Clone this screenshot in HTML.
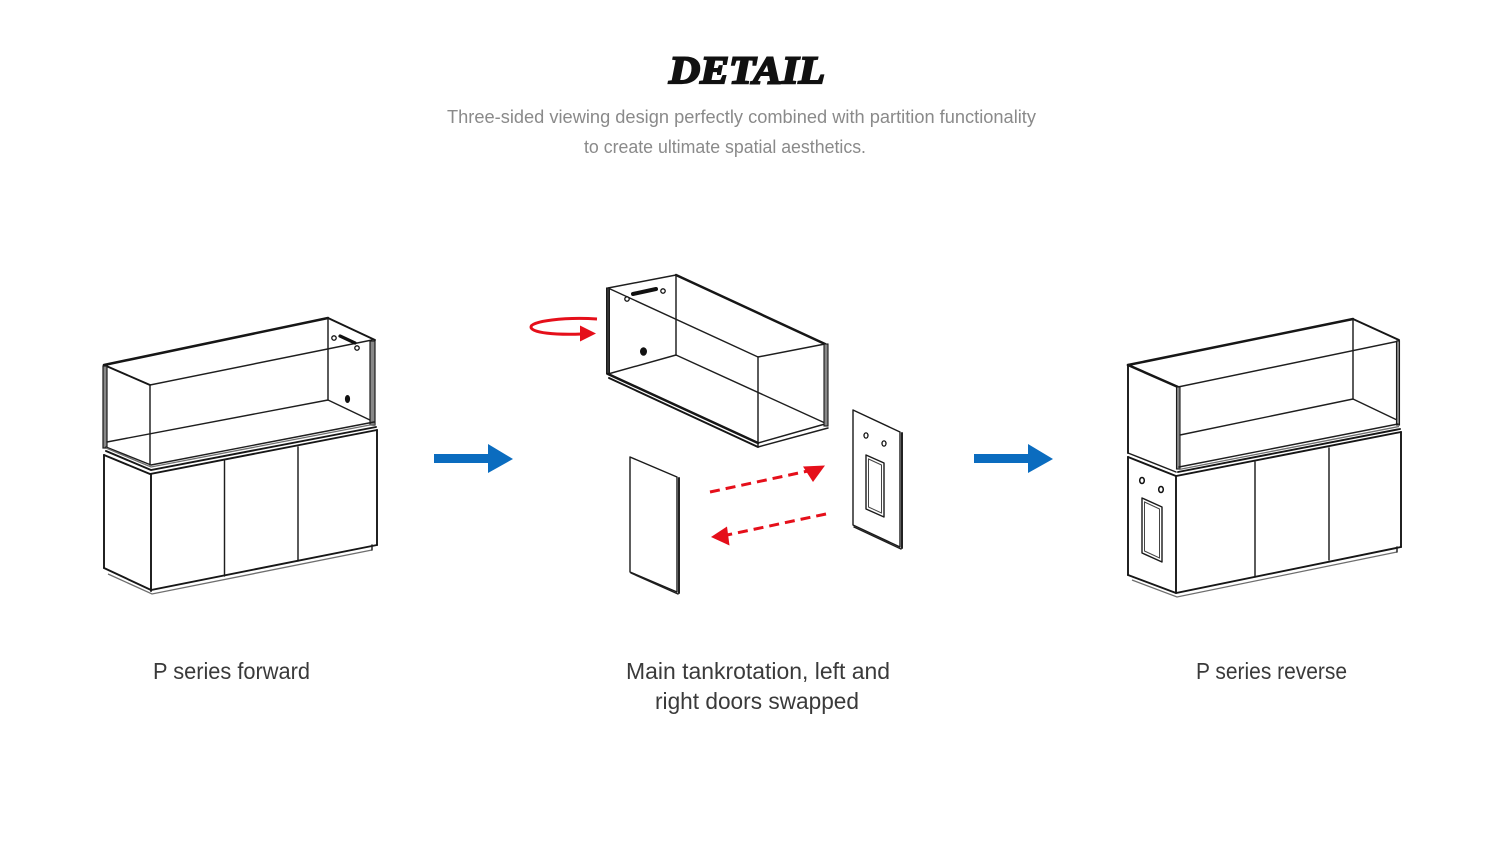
<!DOCTYPE html>
<html>
<head>
<meta charset="utf-8">
<style>
html,body{margin:0;padding:0;background:#fff;}
body{width:1500px;height:844px;overflow:hidden;}
svg{display:block;}
.ln{stroke:#1e1e1e;stroke-width:1.45;fill:none;stroke-linejoin:round;stroke-linecap:round;}
.th{stroke:#161616;stroke-width:2.5;fill:none;stroke-linecap:round;stroke-linejoin:round;}
.md{stroke:#161616;stroke-width:1.9;fill:none;stroke-linecap:round;}
.gr{stroke:#6e6e6e;stroke-width:1.3;fill:none;}
.lab{font-family:"Liberation Sans",sans-serif;font-size:23px;fill:#3a3a3a;}
.sub{font-family:"Liberation Sans",sans-serif;font-size:18.5px;fill:#8a8a8a;}
</style>
</head>
<body>
<svg width="1500" height="844" viewBox="0 0 1500 844" xmlns="http://www.w3.org/2000/svg">
<rect width="1500" height="844" fill="#fff"/>

<!-- Title -->
<text x="669" y="83" textLength="156" lengthAdjust="spacingAndGlyphs" font-family="'Liberation Serif',serif" font-size="39" font-weight="bold" font-style="italic" fill="#111" stroke="#111" stroke-width="2">DETAIL</text>
<text class="sub" x="447" y="123" textLength="589" lengthAdjust="spacingAndGlyphs">Three-sided viewing design perfectly combined with partition functionality</text>
<text class="sub" x="584" y="153" textLength="282" lengthAdjust="spacingAndGlyphs">to create ultimate spatial aesthetics.</text>

<!-- ========== LEFT: P series forward ========== -->
<g>
  <line class="th" x1="104" y1="365" x2="328" y2="318"/>
  <line class="md" x1="104" y1="365" x2="150" y2="385"/>
  <line class="ln" x1="150" y1="385" x2="372" y2="340"/>
  <line class="md" x1="328" y1="318" x2="375" y2="340"/>
  <rect x="103" y="366" width="4" height="82" fill="#888" stroke="#1a1a1a" stroke-width="1.2"/>
  <line class="ln" x1="150" y1="385" x2="150" y2="465"/>
  <line class="ln" x1="328" y1="318" x2="328" y2="400"/>
  <line class="ln" x1="107" y1="442" x2="328" y2="400"/>
  <line class="ln" x1="328" y1="400" x2="372" y2="421"/>
  <rect x="370" y="341" width="5" height="84" fill="#888" stroke="#1a1a1a" stroke-width="1.2"/>
  <polyline class="ln" points="106,447 151,465 374,422"/>
  <polyline class="md" points="106,451 151,470 376,427"/>
  <polyline class="gr" points="106,448 151,467 375,424"/>
  <circle cx="334" cy="338" r="2.2" fill="#fff" stroke="#111" stroke-width="1.3"/>
  <circle cx="357" cy="348" r="2.2" fill="#fff" stroke="#111" stroke-width="1.3"/>
  <line x1="340" y1="336" x2="355" y2="343" stroke="#111" stroke-width="3.2" stroke-linecap="round"/>
  <ellipse cx="347.5" cy="399" rx="2.6" ry="4" fill="#111"/>
  <polyline class="md" points="104,455 150,474 377,430"/>
  <line class="md" x1="104" y1="455" x2="104" y2="568"/>
  <line class="md" x1="151" y1="474" x2="151" y2="591"/>
  <line class="md" x1="377" y1="430" x2="377" y2="545"/>
  <line class="ln" x1="224.5" y1="461" x2="224.5" y2="576"/>
  <line class="ln" x1="298" y1="447" x2="298" y2="561"/>
  <polyline class="md" points="104,568 151,590 377,545"/>
  <polyline class="gr" points="108,574 152,594 372,550"/>
  <line class="ln" x1="372" y1="545" x2="372" y2="550"/>
</g>

<!-- blue arrow 1 -->
<polygon points="434,454 488,454 488,444 513,459 488,473 488,463 434,463" fill="#0b6cbf"/>

<!-- ========== MIDDLE ========== -->
<g>
  <line class="ln" x1="608" y1="288" x2="676" y2="275"/>
  <line class="th" x1="676" y1="275" x2="825" y2="344"/>
  <line class="ln" x1="608" y1="288" x2="758" y2="357"/>
  <line class="ln" x1="758" y1="357" x2="825" y2="344"/>
  <line class="ln" x1="676" y1="275" x2="676" y2="355"/>
  <line class="ln" x1="608" y1="374" x2="676" y2="355"/>
  <line class="ln" x1="676" y1="355" x2="825" y2="423"/>
  <line class="ln" x1="758" y1="357" x2="758" y2="443"/>
  <line class="ln" x1="758" y1="443" x2="825" y2="424"/>
  <rect x="606.5" y="288" width="3" height="86" fill="#333" stroke="#1a1a1a" stroke-width="1"/>
  <rect x="824" y="344" width="4" height="82" fill="#888" stroke="#1a1a1a" stroke-width="1.1"/>
  <line class="th" x1="608" y1="374" x2="758" y2="443"/>
  <line class="md" x1="609" y1="378" x2="758" y2="447"/>
  <line class="ln" x1="758" y1="447" x2="828" y2="428"/>
  <line class="ln" x1="758" y1="443" x2="758" y2="447"/>
  <circle cx="627" cy="299" r="2.2" fill="#fff" stroke="#111" stroke-width="1.3"/>
  <circle cx="663" cy="291" r="2.2" fill="#fff" stroke="#111" stroke-width="1.3"/>
  <line x1="633" y1="294" x2="656" y2="289" stroke="#111" stroke-width="4" stroke-linecap="round"/>
  <ellipse cx="643.5" cy="351.5" rx="3.5" ry="4.3" fill="#111"/>

  <path d="M597,319 C565,317 531,321 531,327 C531,333 556,335 582,334" fill="none" stroke="#e50f1a" stroke-width="3"/>
  <polygon points="580,325.5 596,333.5 580,341.5" fill="#e50f1a"/>

  <polygon points="630,457 677,477 677,592 630,572" fill="#fff" stroke="#1a1a1a" stroke-width="1.4" stroke-linejoin="round"/>
  <line class="md" x1="679" y1="478" x2="679" y2="593"/>
  <line class="ln" x1="631" y1="573" x2="678" y2="594"/>

  <polygon points="853,410 900,432 900,547 853,525" fill="#fff" stroke="#1a1a1a" stroke-width="1.4" stroke-linejoin="round"/>
  <line class="md" x1="902" y1="433" x2="902" y2="548"/>
  <line class="ln" x1="854" y1="527" x2="901" y2="549"/>
  <ellipse cx="866" cy="435.5" rx="2" ry="2.6" fill="#fff" stroke="#111" stroke-width="1.3"/>
  <ellipse cx="884" cy="443.5" rx="2" ry="2.6" fill="#fff" stroke="#111" stroke-width="1.3"/>
  <polygon points="866,455 884,463 884,517 866,509" fill="#fff" stroke="#1a1a1a" stroke-width="1.4" stroke-linejoin="round"/>
  <polygon points="868.5,459 881.5,465 881.5,513 868.5,507" fill="none" stroke="#444" stroke-width="1"/>

  <line x1="710" y1="492" x2="808" y2="471" stroke="#e50f1a" stroke-width="3" stroke-dasharray="10 6"/>
  <polygon points="803,466.5 825,465.5 813,482" fill="#e50f1a"/>
  <line x1="826" y1="514" x2="727" y2="535" stroke="#e50f1a" stroke-width="3" stroke-dasharray="10 6"/>
  <polygon points="711,537 727,526.5 729.5,545.5" fill="#e50f1a"/>
</g>

<!-- blue arrow 2 -->
<polygon points="974,454 1028,454 1028,444 1053,459 1028,473 1028,463 974,463" fill="#0b6cbf"/>

<!-- ========== RIGHT: P series reverse ========== -->
<g>
  <line class="th" x1="1128" y1="365" x2="1353" y2="319"/>
  <line class="th" x1="1128" y1="365" x2="1178" y2="387"/>
  <line class="ln" x1="1178" y1="387" x2="1399" y2="341"/>
  <line class="md" x1="1353" y1="319" x2="1399" y2="340"/>
  <line class="md" x1="1128" y1="365" x2="1128" y2="453"/>
  <rect x="1176.5" y="387" width="3.5" height="82" fill="#888" stroke="#1a1a1a" stroke-width="1.1"/>
  <line class="ln" x1="1128" y1="453" x2="1176" y2="472"/>
  <line class="ln" x1="1180" y1="435" x2="1353" y2="399"/>
  <line class="ln" x1="1353" y1="319" x2="1353" y2="399"/>
  <line class="ln" x1="1353" y1="399" x2="1397" y2="420"/>
  <rect x="1396.5" y="341" width="3" height="84" fill="#888" stroke="#1a1a1a" stroke-width="1.1"/>
  <line class="ln" x1="1179" y1="467" x2="1398" y2="424"/>
  <line class="gr" x1="1179" y1="469.5" x2="1399" y2="426.5"/>
  <line class="md" x1="1178" y1="472" x2="1400" y2="429"/>
  <polyline class="md" points="1128,457 1176,476 1401,432"/>
  <line class="md" x1="1128" y1="457" x2="1128" y2="575"/>
  <line class="md" x1="1176" y1="476" x2="1176" y2="593"/>
  <line class="md" x1="1401" y1="432" x2="1401" y2="547"/>
  <line class="ln" x1="1255" y1="462" x2="1255" y2="577"/>
  <line class="ln" x1="1329" y1="448" x2="1329" y2="560"/>
  <polyline class="md" points="1128,575 1176,593 1401,547"/>
  <polyline class="gr" points="1132,580 1177,597 1397,552"/>
  <line class="ln" x1="1397" y1="547" x2="1397" y2="552"/>
  <ellipse cx="1142" cy="480.5" rx="2.3" ry="3" fill="#fff" stroke="#111" stroke-width="1.5"/>
  <ellipse cx="1161" cy="489.5" rx="2.3" ry="3" fill="#fff" stroke="#111" stroke-width="1.5"/>
  <polygon points="1142,498 1162,507 1162,562 1142,553" fill="#fff" stroke="#1a1a1a" stroke-width="1.4" stroke-linejoin="round"/>
  <polygon points="1144.5,502 1159.5,509 1159.5,558 1144.5,551" fill="none" stroke="#444" stroke-width="1"/>
</g>

<!-- labels -->
<text class="lab" x="153" y="679" textLength="157" lengthAdjust="spacingAndGlyphs">P series forward</text>
<text class="lab" x="626" y="679" textLength="264" lengthAdjust="spacingAndGlyphs">Main tankrotation, left and</text>
<text class="lab" x="655" y="709" textLength="204" lengthAdjust="spacingAndGlyphs">right doors swapped</text>
<text class="lab" x="1196" y="679" textLength="151" lengthAdjust="spacingAndGlyphs">P series reverse</text>
</svg>
</body>
</html>
